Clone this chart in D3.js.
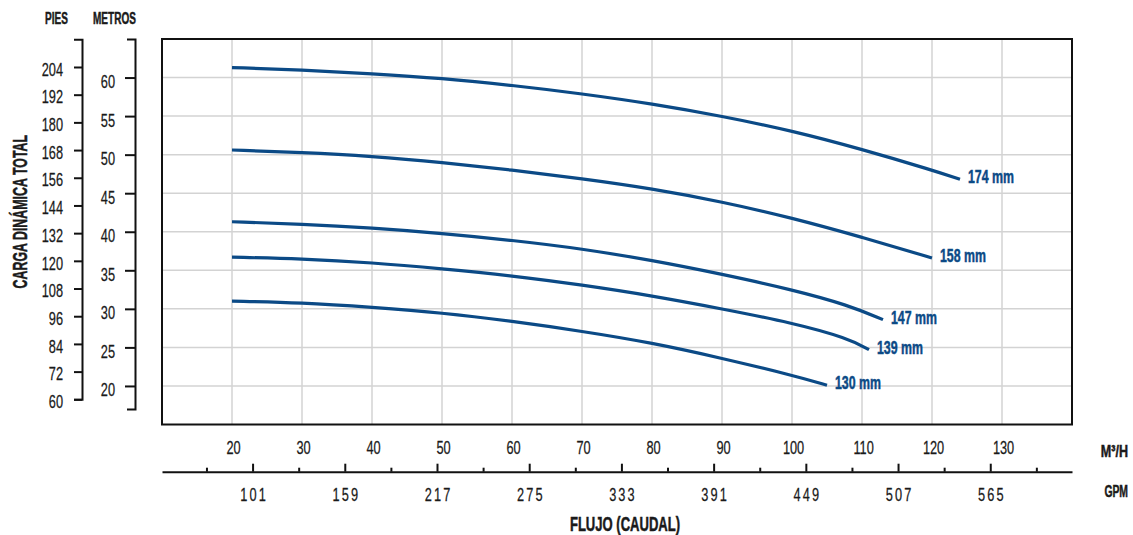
<!DOCTYPE html>
<html><head><meta charset="utf-8">
<script src="https://cdn.jsdelivr.net/npm/d3@7"></script>
<style>
body{margin:0;background:#fff}
svg text{font-family:"Liberation Sans",Arial,sans-serif;fill:#1a1a1a}
</style></head><body><svg id="c" width="1133" height="535"></svg>
<script>
// ---- data ----
const flowTicks = [20,30,40,50,60,70,80,90,100,110,120,130];
const gpmMajor = [101,159,217,275,333,391,449,507,565];
const gpmMinor = [72,130,188,246,304,362,420,478,536,594];
const metrosTicks = [20,25,30,35,40,45,50,55,60];
const piesTicks = [60,72,84,96,108,120,132,144,156,168,180,192,204];
const diameters = ["174 mm","158 mm","147 mm","139 mm","130 mm"];
const flow174 = [20,30,40,50,60,70,80,90,100,110,120,124];
const head174 = [61.3,61.0,60.5,59.9,59.0,57.9,56.6,55.0,53.1,50.7,48.0,46.8];
const flow158 = [20,30,40,50,60,70,80,90,100,110,120];
const head158 = [50.6,50.3,49.8,49.0,48.0,46.9,45.6,43.9,41.8,39.3,36.6];
const flow147 = [20,30,40,50,60,70,80,90,100,108,113];
const head147 = [41.3,41.0,40.5,39.8,38.9,37.8,36.3,34.5,32.5,30.5,28.6];
const flow139 = [20,30,40,50,60,70,80,90,100,108,111];
const head139 = [36.7,36.5,36.0,35.2,34.3,33.1,31.7,30.0,28.2,26.2,24.7];
const flow130 = [20,30,40,50,60,70,80,90,100,105];
const head130 = [31.0,30.8,30.2,29.5,28.4,27.1,25.6,23.6,21.4,20.1];
const GPM_TO_M3H = 0.22712;

const series = [
  {name: diameters[0], flow: flow174, head: head174},
  {name: diameters[1], flow: flow158, head: head158},
  {name: diameters[2], flow: flow147, head: head147},
  {name: diameters[3], flow: flow139, head: head139},
  {name: diameters[4], flow: flow130, head: head130}
];

// ---- layout ----
const svg = d3.select("#c");
const blue = "#0b4a86";
const grid = "#d3d3d3";
const x = d3.scaleLinear().domain([10,140]).range([162,1072]);
const y = d3.scaleLinear().domain([15,65]).range([424.5,39]);
const yPies = d3.scaleLinear().domain([60,216]).range([399.3,39.3]);
const xGpm = d3.scaleLinear().domain(x.domain().map(d => d / GPM_TO_M3H)).range(x.range());
const TK = 0.71, TS = 18;

function squeeze(sel, k){
  sel.each(function(){
    const t = d3.select(this);
    const tx = +t.attr("x") || 0, ty = +t.attr("y") || 0;
    t.attr("transform", `translate(${tx},${ty}) scale(${k},1)`).attr("x", 0).attr("y", 0);
  });
}

// grid
svg.append("g").selectAll("line").data(flowTicks).join("line")
  .attr("x1", d => x(d)).attr("x2", d => x(d))
  .attr("y1", y(65)).attr("y2", y(15))
  .attr("stroke", grid).attr("stroke-width", 1.5);
svg.append("g").selectAll("line").data(metrosTicks).join("line")
  .attr("x1", x(10)).attr("x2", x(140))
  .attr("y1", d => y(d)).attr("y2", d => y(d))
  .attr("stroke", grid).attr("stroke-width", 1.5);

// frame
svg.append("rect").attr("x", x(10)).attr("y", y(65))
  .attr("width", x(140) - x(10)).attr("height", y(15) - y(65))
  .attr("fill", "none").attr("stroke", "#111").attr("stroke-width", 2);

// curves
const line = d3.line().x(d => x(d[0])).y(d => y(d[1])).curve(d3.curveBasis);
series.forEach(s => {
  const pts = s.flow.map((f, i) => [f, s.head[i]]);
  svg.append("path").attr("d", line(pts)).attr("fill", "none")
    .attr("stroke", blue).attr("stroke-width", 3.2).attr("stroke-linecap", "butt");
  const last = pts[pts.length - 1];
  const t = svg.append("text").attr("x", x(last[0]) + 8).attr("y", y(last[1]) + 4)
    .attr("font-size", 19).attr("font-weight", "bold").style("fill", blue)
    .style("stroke", blue).style("stroke-width", 0.5).text(s.name);
  squeeze(t, 0.65);
});

function styleTicks(g){
  g.selectAll(".tick line").attr("stroke", "#111").attr("stroke-width", 2);
  g.selectAll(".tick text").attr("font-size", TS).style("font-family", null).attr("fill", "#1a1a1a")
    .style("stroke", "#1a1a1a").style("stroke-width", 0.25);
}

// pies axis
const gP = svg.append("g").attr("transform", "translate(82,0)")
  .call(d3.axisLeft(yPies).tickValues(piesTicks).tickSize(8).tickSizeOuter(8));
gP.select(".domain").attr("stroke", "#111").attr("stroke-width", 2);
styleTicks(gP);
gP.selectAll(".tick text").attr("x", -19).attr("dy", "8.2px");
squeeze(gP.selectAll(".tick text"), TK);

// metros axis
const yM = y.copy().domain([17, 65]).range([y(17), y(65)]);
const gM = svg.append("g").attr("transform", "translate(135,0)")
  .call(d3.axisLeft(yM).tickValues(metrosTicks).tickSize(10).tickSizeOuter(8));
gM.select(".domain").attr("stroke", "#111").attr("stroke-width", 2);
styleTicks(gM);
gM.selectAll(".tick text").attr("x", -20).attr("dy", "10px");
squeeze(gM.selectAll(".tick text"), TK);

// m3/h labels
const gX = svg.append("g").attr("transform", "translate(0,453.5)")
  .call(d3.axisBottom(x).tickValues(flowTicks).tickSize(0));
gX.select(".domain").remove();
styleTicks(gX);
gX.selectAll(".tick text").attr("y", 0).attr("dy", 0).attr("dx", 1.5);
squeeze(gX.selectAll(".tick text"), TK);

// gpm axis
const gG = svg.append("g").attr("transform", "translate(0,471.7)")
  .call(d3.axisTop(xGpm).tickValues(gpmMajor).tickSize(8).tickSizeOuter(0).tickFormat(""));
gG.select(".domain").attr("stroke", "#111").attr("stroke-width", 2);
styleTicks(gG);
const gG2 = svg.append("g").attr("transform", "translate(0,471.7)")
  .call(d3.axisTop(xGpm).tickValues(gpmMinor).tickSize(4).tickFormat(""));
gG2.select(".domain").remove();
styleTicks(gG2);
const gGl = svg.append("g").attr("transform", "translate(0,501)")
  .call(d3.axisBottom(xGpm).tickValues(gpmMajor).tickSize(0));
gGl.select(".domain").remove();
styleTicks(gGl);
gGl.selectAll(".tick text").attr("y", 0).attr("dy", 0).attr("dx", 1.5)
  .style("letter-spacing", "3px");
squeeze(gGl.selectAll(".tick text"), TK);

// titles
function title(txt, tx, ty, anchor, size, k){
  const t = svg.append("text").attr("x", tx).attr("y", ty).attr("text-anchor", anchor)
    .attr("font-size", size).attr("font-weight", "bold")
    .style("stroke", "#1a1a1a").style("stroke-width", 0.5).text(txt);
  squeeze(t, k);
  return t;
}
title("PIES", 45, 24, "start", 17, 0.59);
title("METROS", 93, 24, "start", 17, 0.59);
title("M³/H", 1128, 456.7, "end", 17, 0.74);
title("GPM", 1128, 496.7, "end", 17, 0.61);
title("FLUJO (CAUDAL)", 625, 531, "middle", 19.5, 0.67);
svg.append("text").attr("transform", "translate(27,211.7) rotate(-90) scale(0.62,1)")
  .attr("text-anchor", "middle").attr("font-size", 20).attr("font-weight", "bold")
  .style("stroke", "#1a1a1a").style("stroke-width", 0.5)
  .text("CARGA DINÁMICA TOTAL");
</script></body></html>
